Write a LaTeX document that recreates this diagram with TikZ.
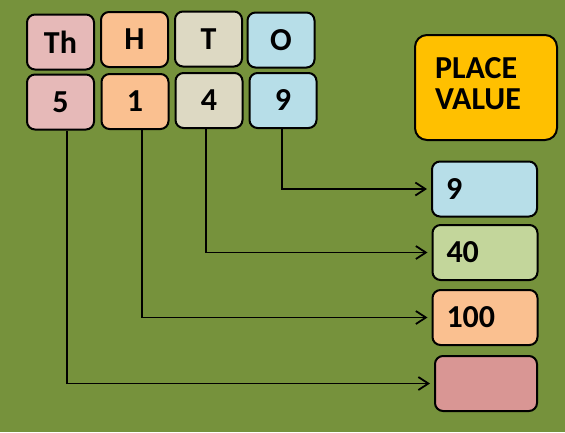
\documentclass[tikz,border=0pt]{standalone}
\usepackage{fontspec}
\setmainfont{Carlito}
\usetikzlibrary{arrows.meta}

\definecolor{field}{HTML}{76923C}
\definecolor{thpink}{HTML}{E6B9B8}
\definecolor{hpeach}{HTML}{FAC090}
\definecolor{tbeige}{HTML}{DDD9C3}
\definecolor{oblue}{HTML}{B7DEE8}
\definecolor{tgreen}{HTML}{C3D69B}
\definecolor{thred}{HTML}{D99694}
\definecolor{gold}{HTML}{FFC000}

\tikzset{
  digit/.style={draw, line width=2pt, rounded corners=8pt, minimum width=67pt,
    minimum height=55pt, inner sep=0pt, font=\fontsize{32}{32}\selectfont\bfseries},
  result/.style={draw, line width=2pt, rounded corners=8pt, minimum width=105pt,
    minimum height=55pt, text width=77pt, inner xsep=14pt, inner ysep=0pt, align=left,
    font=\fontsize{32}{32}\selectfont\bfseries},
  link/.style={line width=1.8pt, -{Straight Barb[length=10pt,width=13pt,line width=1.8pt]},
    shorten >=4pt}
}

\begin{document}
\begin{tikzpicture}[x=1pt, y=-1pt]
        \useasboundingbox (0,0) rectangle (565,432);
        \fill[field] (0,0) rectangle (565,432);

        % Header row: place names
        \node[digit, fill=thpink] (th) at (60.5, 42) {Th};
        \node[digit, fill=hpeach] (h) at (134.5, 39.5) {H};
        \node[digit, fill=tbeige] (t) at (208.5, 39) {T};
        \node[digit, fill=oblue] (o) at (281, 40) {O};

        % Digits of the number
        \node[digit, fill=thpink] (d5) at (60.5, 102) {5};
        \node[digit, fill=hpeach] (d1) at (135, 101.5) {1};
        \node[digit, fill=tbeige] (d4) at (209, 100.5) {4};
        \node[digit, fill=oblue] (d9) at (283, 100.5) {9};

        % Title box
        \node[draw, line width=2pt, rounded corners=12pt, fill=gold, minimum width=142pt,
          minimum height=105pt, text width=102pt, inner xsep=20pt, inner ysep=0pt,
          text depth=39pt, align=left,
          font=\fontsize{32}{31}\selectfont\bfseries] (title) at (486, 87.5) {PLACE\\ VALUE};

        % Values of each digit
        \node[result, fill=oblue] (v9) at (484.5, 189) {9};
        \node[result, fill=tgreen] (v40) at (485, 252.5) {40};
        \node[result, fill=hpeach] (v100) at (485, 317.5) {100};
        \node[result, fill=thred, minimum width=102pt, text width=74pt] (vblank) at (486, 383.5) {};

        % Connectors
        \draw[link] ([xshift=-1pt]d9.south) |- (v9.west);
        \draw[link] ([xshift=-3pt]d4.south) |- (v40.west);
        \draw[link] ([xshift=7pt]d1.south) |- (v100.west);
        \draw[link] ([xshift=6.5pt]d5.south) |- (vblank.west);
      \end{tikzpicture}
\end{document}
